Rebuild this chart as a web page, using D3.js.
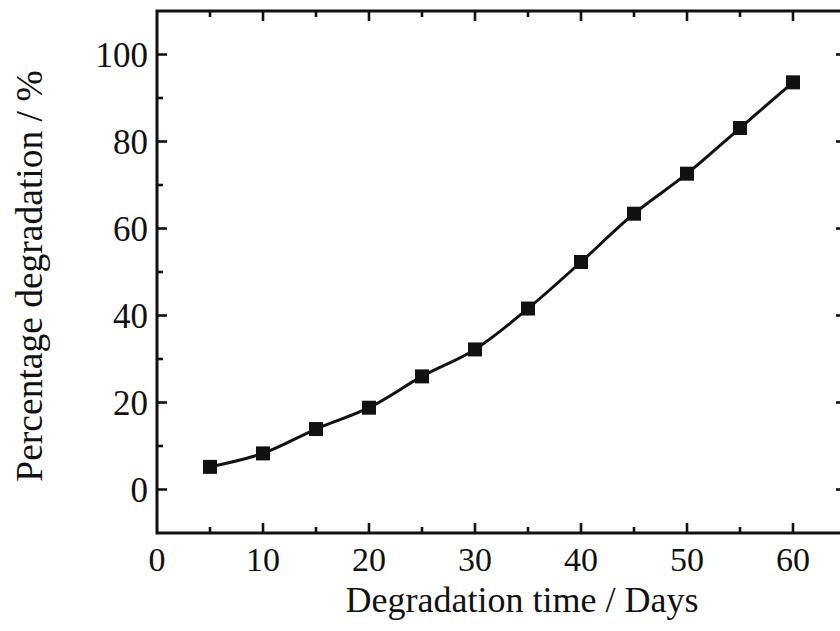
<!DOCTYPE html>
<html>
<head>
<meta charset="utf-8">
<script src="https://cdn.jsdelivr.net/npm/d3@7"></script>
<style>
	html, body { margin: 0; padding: 0; background: #fff; overflow: hidden; }
	svg { display: block; }
	svg text { font-family: "Liberation Serif", "Times New Roman", serif; fill: #111; }
</style>
</head>
<body>
<div id="chartDiv"></div>
<script>
;(function() {

	var days = [5, 10, 15, 20, 25, 30, 35, 40, 45, 50, 55, 60];
	var degradation = [5.2, 8.3, 13.9, 18.8, 26.0, 32.2, 41.6, 52.3, 63.4, 72.6, 83.1, 93.6];
	var xTickLabels = [0, 10, 20, 30, 40, 50, 60];
	var yTickLabels = [0, 20, 40, 60, 80, 100];
	var xAxisLabelHeader = "Degradation time / Days";
	var yAxisLabelHeader = "Percentage degradation / %";

	var width = 840;
	var height = 631;
	var margin = { top: 11, right: -6, bottom: 98, left: 157 };
	var chartWidth = width - margin.left - margin.right;
	var chartHeight = height - margin.top - margin.bottom;

	var chart = d3.select("#chartDiv").append("svg")
		.attr("width", width)
		.attr("height", height);

	var xScale = d3.scaleLinear().domain([0, 65]).range([margin.left, margin.left + chartWidth]);
	var yScale = d3.scaleLinear().domain([-10, 110]).range([margin.top + chartHeight, margin.top]);

	var xMinor = d3.range(5, 65, 10);
	var yMinor = d3.range(10, 110, 20);

	// inward ticks on all four sides
	function tickLines(g, vals, len, side) {
		var horiz = side == "b" || side == "t";
		g.selectAll(null).data(vals).enter().append("line")
			.attr("stroke", "#111")
			.attr("stroke-width", 2.6)
			.attr("x1", function(d) { return horiz ? xScale(d) : (side == "l" ? xScale(0) : xScale(65)); })
			.attr("x2", function(d) { return horiz ? xScale(d) : (side == "l" ? xScale(0) + len : xScale(65) - len); })
			.attr("y1", function(d) { return !horiz ? yScale(d) : (side == "b" ? yScale(-10) : yScale(110)); })
			.attr("y2", function(d) { return !horiz ? yScale(d) : (side == "b" ? yScale(-10) - len : yScale(110) + len); });
	}

	var ticks = chart.append("g");
	tickLines(ticks, xTickLabels.slice(1), 10, "b");
	tickLines(ticks, xMinor, 6, "b");
	tickLines(ticks, xTickLabels.slice(1), 10, "t");
	tickLines(ticks, xMinor, 6, "t");
	tickLines(ticks, yTickLabels, 10, "l");
	tickLines(ticks, yMinor, 6, "l");
	tickLines(ticks, yTickLabels, 10, "r");
	tickLines(ticks, yMinor, 6, "r");

	// frame (right side lies just past the picture's edge)
	chart.append("rect")
		.attr("x", xScale(0))
		.attr("y", yScale(110))
		.attr("width", xScale(65) - xScale(0))
		.attr("height", yScale(-10) - yScale(110))
		.attr("fill", "none")
		.attr("stroke", "#111")
		.attr("stroke-width", 3);

	// tick labels
	chart.append("g").selectAll("text")
		.data(xTickLabels).enter().append("text")
		.attr("x", function(d) { return xScale(d); })
		.attr("y", yScale(-10) + 38)
		.attr("text-anchor", "middle")
		.style("font-size", "34px")
		.text(function(d) { return d; });

	chart.append("g").selectAll("text")
		.data(yTickLabels).enter().append("text")
		.attr("x", xScale(0) - 9)
		.attr("y", function(d) { return yScale(d) + 12; })
		.attr("text-anchor", "end")
		.style("font-size", "35px")
		.text(function(d) { return d; });

	// axis titles
	chart.append("text")
		.attr("text-anchor", "middle")
		.attr("x", 522)
		.attr("y", 612)
		.style("font-size", "36px")
		.text(xAxisLabelHeader);

	chart.append("text")
		.attr("text-anchor", "middle")
		.attr("transform", "translate(42," + 276 + ") rotate(-90)")
		.style("font-size", "37.5px")
		.text(yAxisLabelHeader);

	var data = days.map(function(d, i) { return { xVal: d, yVal: degradation[i] }; });

	var line = d3.line()
		.x(function(d) { return xScale(d.xVal); })
		.y(function(d) { return yScale(d.yVal); })
		.curve(d3.curveCatmullRom);

	chart.append("path")
		.datum(data)
		.attr("d", line)
		.attr("fill", "none")
		.attr("stroke", "#111")
		.attr("stroke-width", 3);

	var s = 14;
	chart.append("g").selectAll("rect")
		.data(data).enter().append("rect")
		.attr("x", function(d) { return xScale(d.xVal) - s / 2; })
		.attr("y", function(d) { return yScale(d.yVal) - s / 2; })
		.attr("width", s)
		.attr("height", s)
		.attr("fill", "#111");

})();
</script>
</body>
</html>
